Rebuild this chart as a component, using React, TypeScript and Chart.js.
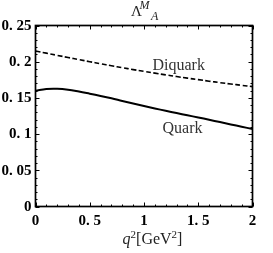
import React, { useEffect, useRef } from "react";
import { Chart, registerables } from "chart.js";

Chart.register(...registerables);

const qValues = [0, 0.1, 0.2, 0.3, 0.4, 0.5, 0.6, 0.7, 0.8, 0.9, 1.0, 1.1, 1.2, 1.3, 1.4, 1.5, 1.6, 1.7, 1.8, 1.9, 2.0];
const quark = [0.160, 0.1624, 0.1627, 0.1614, 0.1588, 0.1558, 0.1527, 0.1494, 0.1458, 0.1423, 0.1388, 0.1354, 0.1322, 0.1291, 0.126, 0.123, 0.1198, 0.1166, 0.1134, 0.1102, 0.107];
const diquark = [0.2148, 0.2118, 0.2088, 0.2058, 0.2029, 0.2, 0.1972, 0.1944, 0.1917, 0.1891, 0.1866, 0.1842, 0.1818, 0.1795, 0.1773, 0.1752, 0.1731, 0.1711, 0.1692, 0.1674, 0.1656];
const xTicks = [0, 0.5, 1, 1.5, 2];
const yTicks = [0, 0.05, 0.1, 0.15, 0.2, 0.25];
const seriesLabels = ["Quark", "Diquark"];

const fmt = (v: number) => Number(v.toFixed(2)).toString().replace(".", ". ");

const framePlugin = {
  id: "frame",
  afterDraw(chart: any) {
    const ctx = chart.ctx;
    const { left, right, top, bottom } = chart.chartArea;
    const xs = chart.scales.x;
    const ys = chart.scales.y;
    ctx.save();
    ctx.strokeStyle = "#000";
    ctx.lineWidth = 1.7;
    ctx.strokeRect(left, top, right - left, bottom - top);
    ctx.lineWidth = 1;
    for (let i = 0; i <= 20; i++) {
      const v = i * 0.1;
      const px = Math.round(xs.getPixelForValue(v)) + 0.5;
      const len = i % 5 === 0 ? 4 : 2;
      ctx.beginPath();
      ctx.moveTo(px, bottom);
      ctx.lineTo(px, bottom - len);
      ctx.moveTo(px, top);
      ctx.lineTo(px, top + len);
      ctx.stroke();
    }
    for (let i = 0; i <= 25; i++) {
      const v = i * 0.01;
      const py = Math.round(ys.getPixelForValue(v)) + 0.5;
      const len = i % 5 === 0 ? 4 : 2;
      ctx.beginPath();
      ctx.moveTo(left, py);
      ctx.lineTo(left + len, py);
      ctx.moveTo(right, py);
      ctx.lineTo(right - len, py);
      ctx.stroke();
    }

    // tick labels
    ctx.fillStyle = "#000";
    ctx.font = "bold 15px 'Liberation Serif'";
    ctx.textBaseline = "middle";
    ctx.textAlign = "right";
    for (const v of yTicks) {
      ctx.fillText(fmt(v), left - 4, ys.getPixelForValue(v) + 0.5);
    }
    ctx.textAlign = "center";
    for (const v of xTicks) {
      ctx.fillText(fmt(v), xs.getPixelForValue(v), bottom + 14.5);
    }

    // series labels
    ctx.fillStyle = "#333";
    ctx.font = "16px 'Liberation Serif'";
    ctx.fillText(seriesLabels[1], xs.getPixelForValue(1.32), ys.getPixelForValue(0.194));
    ctx.fillText(seriesLabels[0], xs.getPixelForValue(1.355), ys.getPixelForValue(0.108));

    // title  Λ^M_A
    ctx.fillStyle = "#222";
    ctx.textAlign = "left";
    ctx.textBaseline = "alphabetic";
    ctx.font = "15px 'Liberation Serif'";
    ctx.fillText("Λ", 131, 16);
    ctx.font = "italic 12px 'Liberation Serif'";
    ctx.fillText("M", 139.5, 9);
    ctx.fillText("A", 151, 19.5);

    // x-axis title q^2[GeV^2]
    const parts: [string, string, number][] = [
      ["q", "italic 16px 'Liberation Serif'", 0],
      ["2", "11px 'Liberation Serif'", -6],
      ["[GeV", "16px 'Liberation Serif'", 0],
      ["2", "11px 'Liberation Serif'", -6],
      ["]", "16px 'Liberation Serif'", 0],
    ];
    let total = 0;
    for (const [t, f] of parts) {
      ctx.font = f;
      total += ctx.measureText(t).width;
    }
    let x = 152.5 - total / 2;
    const base = 244;
    for (const [t, f, dy] of parts) {
      ctx.font = f;
      ctx.fillText(t, x, base + dy);
      x += ctx.measureText(t).width;
    }
    ctx.restore();
  },
};

export default function App() {
  const ref = useRef<HTMLCanvasElement>(null);
  useEffect(() => {
    if (!ref.current) return;
    const chart = new Chart(ref.current, {
      type: "line",
      data: {
        datasets: [
          {
            label: seriesLabels[0],
            data: qValues.map((q, i) => ({ x: q, y: quark[i] })),
            borderColor: "#000",
            borderWidth: 2,
            pointRadius: 0,
            tension: 0.4,
            fill: false,
          },
          {
            label: seriesLabels[1],
            data: qValues.map((q, i) => ({ x: q, y: diquark[i] })),
            borderColor: "#000",
            borderWidth: 1.6,
            borderDash: [5, 2.5],
            pointRadius: 0,
            tension: 0.4,
            fill: false,
          },
        ],
      },
      options: {
        animation: false,
        responsive: false,
        maintainAspectRatio: false,
        layout: { padding: { left: 35.5, right: 20.5, top: 25.5, bottom: 46.5 } },
        plugins: { legend: { display: false }, tooltip: { enabled: false }, title: { display: false } },
        scales: {
          x: { type: "linear", min: 0, max: 2, display: false },
          y: { type: "linear", min: 0, max: 0.25, display: false },
        },
      },
      plugins: [framePlugin],
    });
    return () => chart.destroy();
  }, []);
  return (
    <div style={{ position: "fixed", left: 0, top: 0, width: 273, height: 253, background: "#fff" }}>
      <canvas ref={ref} width={273} height={253} style={{ display: "block" }} />
    </div>
  );
}
